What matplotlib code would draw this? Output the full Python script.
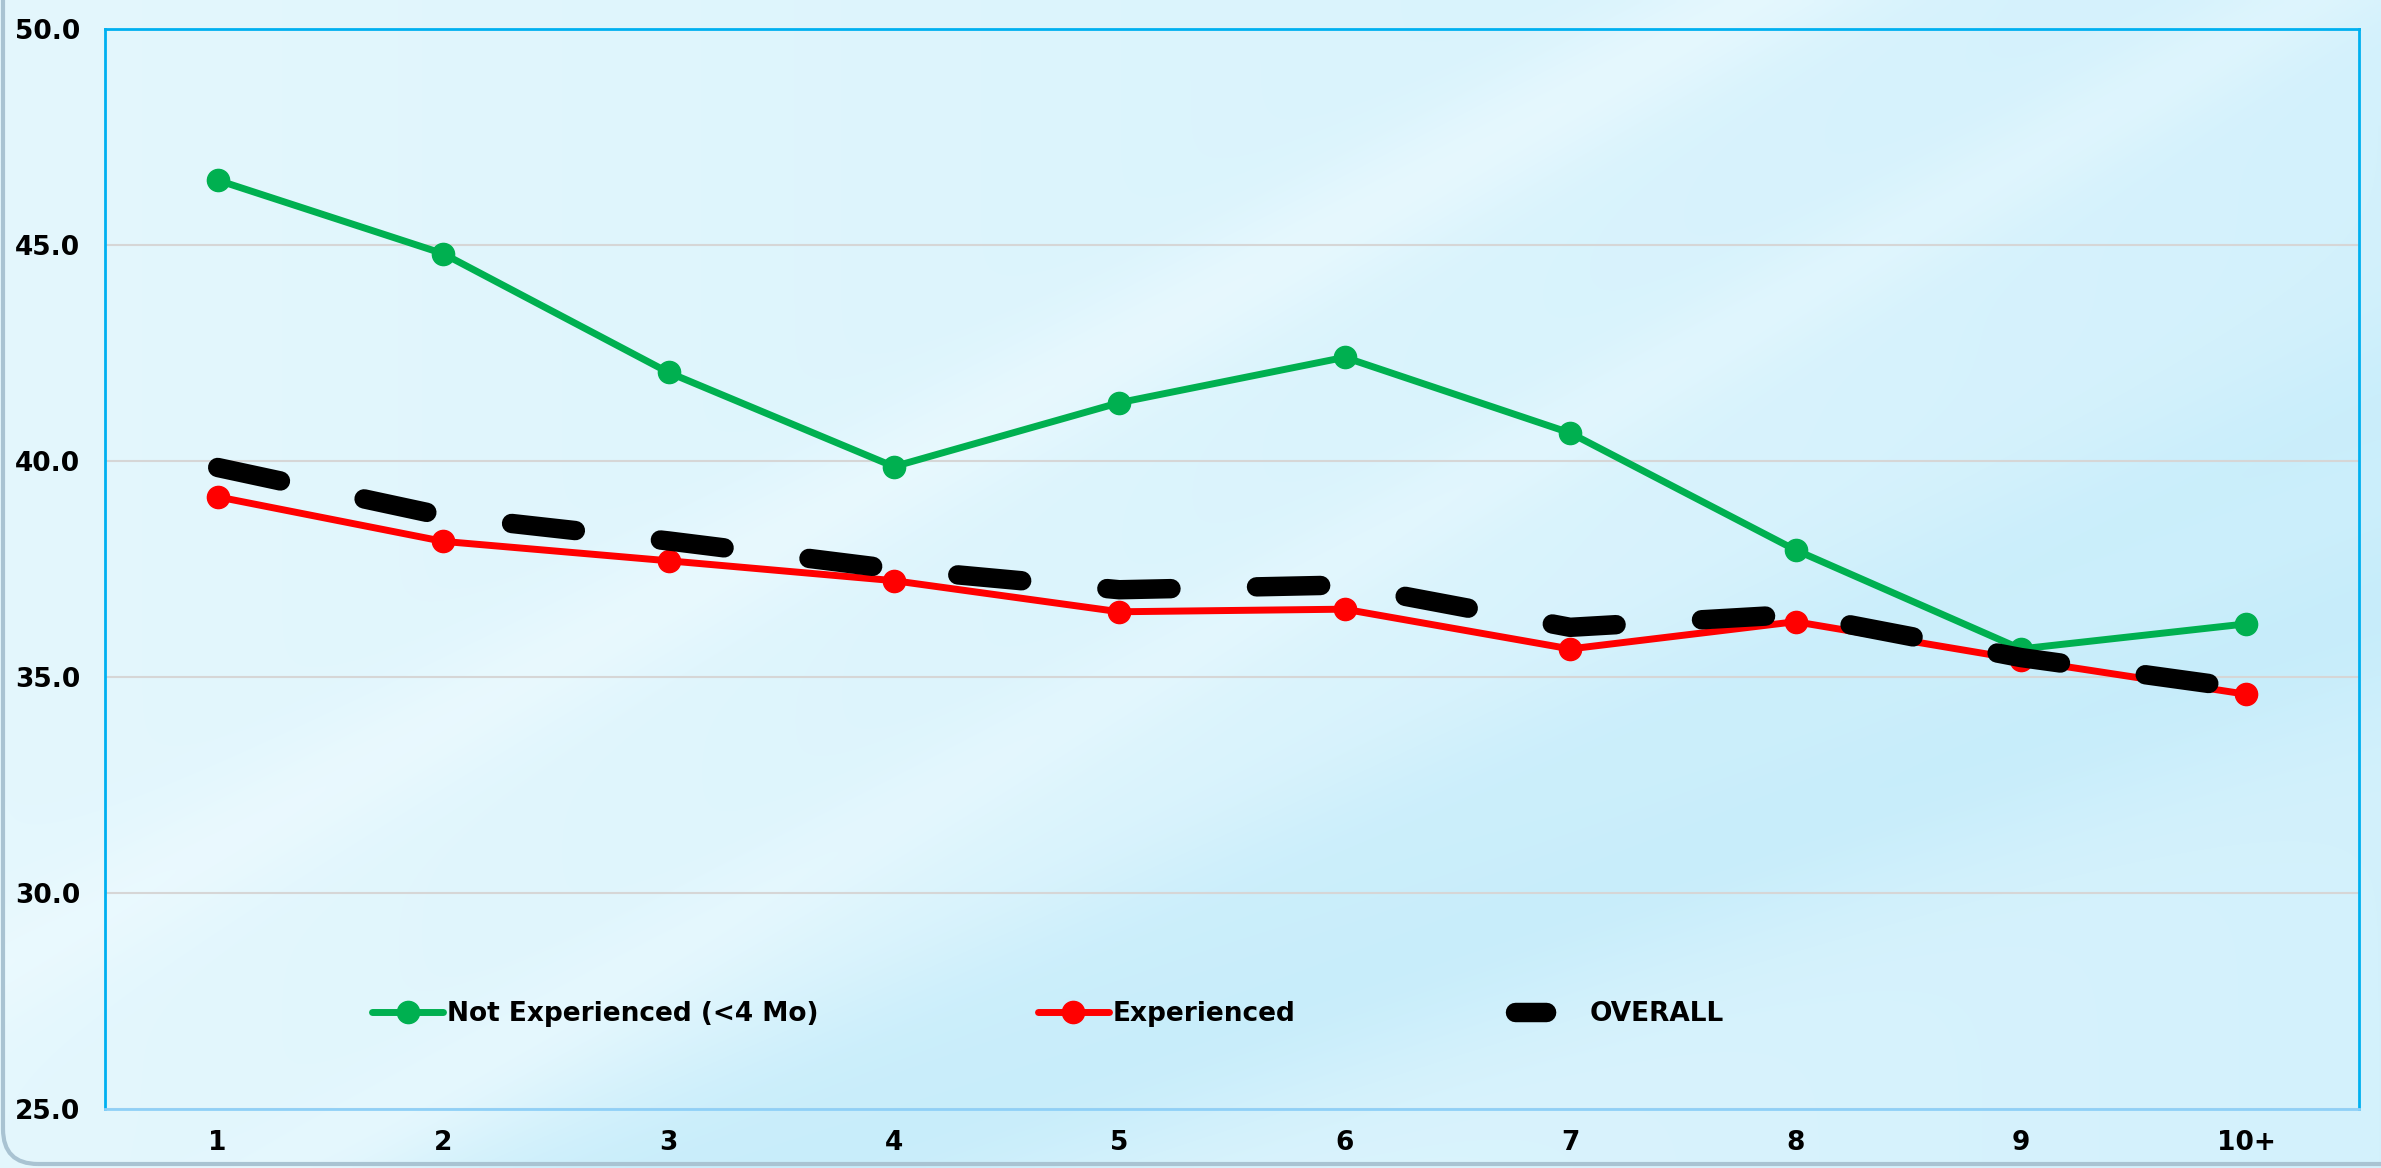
import numpy as np
import matplotlib.pyplot as plt
from matplotlib.colors import to_rgb
from matplotlib.lines import Line2D
from matplotlib.patches import FancyBboxPatch

# data
categories = ["1", "2", "3", "4", "5", "6", "7", "8", "9", "10+"]
not_experienced = [46.5, 44.8, 42.05, 39.87, 41.35, 42.4, 40.65, 37.94, 35.65, 36.23]
experienced = [39.17, 38.14, 37.69, 37.23, 36.51, 36.57, 35.65, 36.28, 35.4, 34.6]
overall = [39.85, 38.73, 38.15, 37.5, 37.02, 37.13, 36.15, 36.45, 35.45, 34.73]
y_ticks = [25, 30, 35, 40, 45, 50]

plt.rcParams['font.family'] = ['DejaVu Sans']
plt.rcParams['font.weight'] = 'bold'

W, H = 2381, 1168
fig = plt.figure(figsize=(W / 100, H / 100), dpi=100)


def band(X, Y, p0, p1, width):
    # soft diagonal streak along the line p0 -> p1
    (x0, y0), (x1, y1) = p0, p1
    dx, dy = x1 - x0, y1 - y0
    d = np.abs(dy * (X - x0) - dx * (Y - y0)) / np.hypot(dx, dy)
    return np.exp(-(d / width) ** 2)


# background: light blue gradient with diagonal streaks
gx, gy = np.meshgrid(np.linspace(0, W, 480), np.linspace(0, H, 240))
t = (gx / W)[..., None]
img = (1 - t) * np.array(to_rgb("#e4f7fd")) + t * np.array(to_rgb("#d3f1fc"))
dark = np.array(to_rgb("#c2ebfa"))
light = np.array(to_rgb("#effbff"))
for p0, p1, w, s in [((850, 0), (2381, 560), 110, 0.7),
                     ((1500, 380), (2381, 760), 90, 0.5)]:
    k = (band(gx, gy, p0, p1, w) * s)[..., None]
    img = img * (1 - k) + dark * k
for p0, p1, w, s in [((0, 200), (1750, 1168), 60, 0.55),
                     ((300, 0), (1500, 700), 50, 0.35)]:
    k = (band(gx, gy, p0, p1, w) * s)[..., None]
    img = img * (1 - k) + light * k

bg = fig.add_axes([0, 0, 1, 1], zorder=-10)
bg.imshow(img, extent=[0, 1, 0, 1], origin='lower', aspect='auto', interpolation='bilinear')
bg.axis('off')

# rounded outer frame (only the left side and bottom-left corner show)
frame = FancyBboxPatch((0.03, 0.04), W / 100 + 1, H / 100 + 2,
                       boxstyle="round,pad=0,rounding_size=0.35",
                       transform=fig.dpi_scale_trans, facecolor='none',
                       edgecolor='#a9c3d2', lw=3, zorder=-5)
fig.patches.append(frame)

ax = fig.add_axes([105 / W, 59 / H, 2254 / W, 1080 / H])
ax.set_facecolor('none')

x = np.arange(len(categories))
l_ne, = ax.plot(x, not_experienced, color='#00b050', lw=5, marker='o', ms=16,
                solid_capstyle='round', zorder=3, label='Not Experienced (<4 Mo)')
l_ex, = ax.plot(x, experienced, color='#ff0000', lw=5, marker='o', ms=16,
                solid_capstyle='round', zorder=3, label='Experienced')
ax.plot(x, overall, color='black', lw=14, ls=(0, (3.3, 4.4)),
        dash_capstyle='round', zorder=4)
# shorter single dash for the legend key
l_ov = Line2D([], [], color='black', lw=14, ls=(0, (1.6, 10)),
              dash_capstyle='round', label='OVERALL')

ax.set_xlim(-0.5, len(categories) - 0.5)
ax.set_ylim(25, 50)
ax.set_xticks(x)
ax.set_xticklabels(categories)
ax.set_yticks(y_ticks)
ax.set_yticklabels([f"{v:.1f}" for v in y_ticks])
ax.tick_params(axis='y', length=0, labelsize=19, pad=18)
ax.tick_params(axis='x', length=0, labelsize=19, pad=15)

ax.yaxis.grid(True, color='#d6d6d6', lw=1.5)
ax.set_axisbelow(True)
for side in ['left', 'top', 'right']:
    ax.spines[side].set_color('#00b0f0')
    ax.spines[side].set_linewidth(2)
ax.spines['bottom'].set_color('#8fd0f7')
ax.spines['bottom'].set_linewidth(2)

ax.legend(handles=[l_ne, l_ex, l_ov], ncol=3, loc='center left',
          bbox_to_anchor=((372 - 105) / 2254, 0.088), frameon=False,
          fontsize=19, handlelength=2.7, handletextpad=0.15,
          columnspacing=8.3, borderpad=0, borderaxespad=0)

fig.savefig("out.png", dpi=100)
